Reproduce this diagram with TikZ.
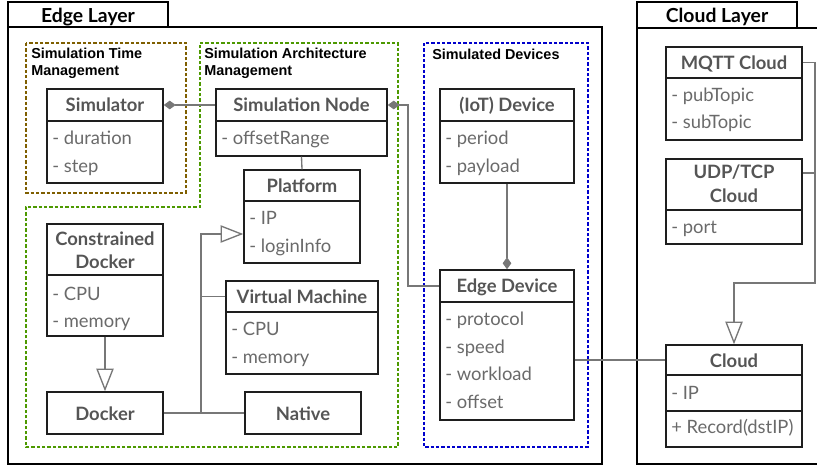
\documentclass[tikz,border=0pt]{standalone}
\usepackage{fontspec}
\setmainfont{Lato}
\newfontfamily\lblfont{Liberation Sans}
\usetikzlibrary{arrows.meta,fit}
\definecolor{hdrgray}{HTML}{555555}
\definecolor{attrgray}{HTML}{6A6A6A}
\definecolor{conngray}{HTML}{777777}
\definecolor{boxline}{HTML}{1E1E1E}
\definecolor{tmbrown}{HTML}{7F5F00}
\definecolor{archgreen}{HTML}{4D9900}
\definecolor{devblue}{HTML}{0000CC}
\tikzset{
  dmd/.tip={Diamond[length=9pt,width=6.5pt,fill=conngray]},
  gen/.tip={Triangle[open,length=17pt,width=13pt,fill=white]},
}
\begin{document}
\begin{tikzpicture}[x=0.75pt,y=-0.75pt,
  boxpart/.style={draw=boxline, line width=1.1pt, inner sep=0pt},
  hdr/.style={font=\fontsize{13.8}{17}\selectfont\bfseries, text=hdrgray, inner sep=0pt, anchor=base},
  attr/.style={font=\fontsize{13.8}{16}\selectfont, text=attrgray, inner sep=0pt, anchor=base west},
  conn/.style={draw=conngray, line width=1pt},
  grp/.style={dash pattern=on 2.5pt off 1.5pt, line width=1pt},
  grplbl/.style={font=\lblfont\bfseries\fontsize{10.8}{12.75}\selectfont, anchor=base west, align=left, inner sep=0pt},
  layer/.style={draw=black, line width=0.9pt},
  layerlbl/.style={font=\fontsize{14.5}{16}\selectfont\bfseries, inner sep=0pt, anchor=base},
]
\useasboundingbox (0,0) rectangle (817,468);

% ---------- layers ----------
\draw[layer] (8,2) rectangle (168,27);
\node[layerlbl] (edgelayer) at (88,22) {Edge Layer};
\draw[layer] (8,27) rectangle (602,464);
\draw[layer] (637,2) rectangle (797,28);
\node[layerlbl] (cloudlayer) at (717,22) {Cloud Layer};
\draw[layer] (817,28) -- (637,28) -- (637,464) -- (817,464);

% ---------- groups ----------
\draw[grp, draw=tmbrown] (26,43) rectangle (186,193);
\node[grplbl] (gtime) at (31,75) {Simulation Time\\Management};
\draw[grp, draw=archgreen] (200,43) -- (398,43) -- (398,447) -- (26,447) -- (26,207) -- (200,207) -- cycle;
\node[grplbl] (garch) at (204,75) {Simulation Architecture\\Management};
\draw[grp, draw=devblue] (424,43) rectangle (588,447);
\node[grplbl] (gdev) at (432,59) {Simulated Devices};

% ---------- Simulator ----------
\node[boxpart, fit={(47,89)(163,121)}] (simH) {};
\node[boxpart, fit={(47,121)(163,183)}] (simA) {};
\node[hdr] at (105,111) {Simulator};
\node[attr] at (52,144) {- duration};
\node[attr] at (52,172) {- step};

% ---------- Simulation Node ----------
\node[boxpart, fit={(216,89)(387,121)}] (snH) {};
\node[boxpart, fit={(216,121)(387,156)}] (snA) {};
\node[hdr] at (301.5,111) {Simulation Node};
\node[attr] at (221,144) {- offsetRange};

% ---------- Platform ----------
\node[boxpart, fit={(244,170)(360,201)}] (plH) {};
\node[boxpart, fit={(244,201)(360,263)}] (plA) {};
\node[hdr] at (302,192) {Platform};
\node[attr] at (249,224) {- IP};
\node[attr] at (249,252) {- loginInfo};

% ---------- Constrained Docker ----------
\node[boxpart, fit={(47,224)(163,275)}] (cdH) {};
\node[boxpart, fit={(47,275)(163,336)}] (cdA) {};
\node[hdr] at (105,245) {Constrained};
\node[hdr] at (105,268) {Docker};
\node[attr] at (52,300) {- CPU};
\node[attr] at (52,327) {- memory};

% ---------- Docker / Native ----------
\node[boxpart, fit={(47,392)(163,434)}] (docker) {};
\node[hdr] at (105,420) {Docker};
\node[boxpart, fit={(245,392)(361,434)}] (native) {};
\node[hdr] at (303,420) {Native};

% ---------- Virtual Machine ----------
\node[boxpart, fit={(226,281)(378,312)}] (vmH) {};
\node[boxpart, fit={(226,312)(378,374)}] (vmA) {};
\node[hdr] at (302,303) {Virtual Machine};
\node[attr] at (231,335) {- CPU};
\node[attr] at (231,363) {- memory};

% ---------- (IoT) Device ----------
\node[boxpart, fit={(440,89)(574,121)}] (iotH) {};
\node[boxpart, fit={(440,121)(574,183)}] (iotA) {};
\node[hdr] at (507,111) {(IoT) Device};
\node[attr] at (445,144) {- period};
\node[attr] at (445,172) {- payload};

% ---------- Edge Device ----------
\node[boxpart, fit={(440,270)(574,302)}] (edH) {};
\node[boxpart, fit={(440,302)(574,420)}] (edA) {};
\node[hdr] at (507,292) {Edge Device};
\node[attr] at (445,325) {- protocol};
\node[attr] at (445,353) {- speed};
\node[attr] at (445,380) {- workload};
\node[attr] at (445,408) {- offset};

% ---------- MQTT Cloud ----------
\node[boxpart, fit={(666,47)(802,78)}] (mqH) {};
\node[boxpart, fit={(666,78)(802,140)}] (mqA) {};
\node[hdr] at (734,69) {MQTT Cloud};
\node[attr] at (671,101) {- pubTopic};
\node[attr] at (671,128) {- subTopic};

% ---------- UDP/TCP Cloud ----------
\node[boxpart, fit={(666,159)(802,210)}] (udH) {};
\node[boxpart, fit={(666,210)(802,244)}] (udA) {};
\node[hdr] at (734,178) {UDP/TCP};
\node[hdr] at (734,202) {Cloud};
\node[attr] at (671,233) {- port};

% ---------- Cloud ----------
\node[boxpart, fit={(666,345)(802,375)}] (clH) {};
\node[boxpart, fit={(666,375)(802,411)}] (clA) {};
\node[boxpart, fit={(666,411)(802,447)}] (clM) {};
\node[hdr] at (734,367) {Cloud};
\node[attr] at (671,399) {- IP};
\node[attr] at (671,433) {+ Record(dstIP)};

% ---------- connectors ----------
\coordinate (jn) at (201,413);
\coordinate (sel) at (408,105);
\coordinate (cel) at (815,62.5);
\draw[conn, {dmd}-] (simH.east) -- (snH.west);
\draw[conn] (snA.south) -- (plH.north);
\draw[conn, {dmd}-] (snH.east) -- (sel) -- (sel |- edH.west) -- (edH.west);
\draw[conn, -{dmd}] (iotA.south) -- (edH.north);
\draw[conn, -{gen}] (cdA.south) -- (docker.north);
\draw[conn] (docker.east) -- (native.west);
\draw[conn, -{gen}] (jn) -- (201,234) -- (plA.west |- 0,234);
\draw[conn] (vmH.west) -- (jn |- vmH.west);
\draw[conn] (edA.east |- clH.west) -- (clH.west);
\draw[conn, -{gen}] (mqH.east) -- (cel) -- (815,283) -- (734,283) -- (clH.north);
\draw[conn] (udH.east |- 0,173) -- (cel |- 0,173);
\end{tikzpicture}
\end{document}
